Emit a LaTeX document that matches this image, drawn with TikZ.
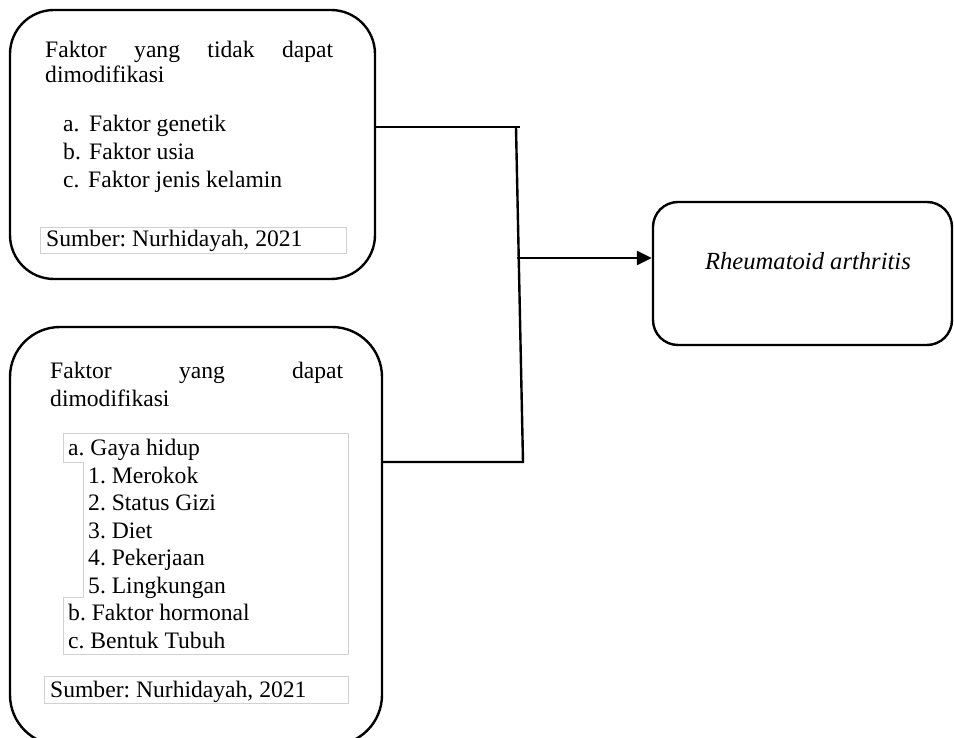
\documentclass[tikz,border=0pt]{standalone}
\usepackage{fontspec}
\setmainfont{Liberation Serif}
\usetikzlibrary{arrows.meta}
\frenchspacing
\begin{document}
\frenchspacing
\begin{tikzpicture}[x=1pt,y=-1pt,
  bigbox/.style={draw=black, line width=2.4pt, rounded corners=#1, inner sep=0pt},
  txt/.style={anchor=base west, inner sep=0pt, font=\fontsize{23.6}{28}\selectfont},
  thinframe/.style={draw=black!18, line width=0.9pt},
  conn/.style={draw=black, line width=2.4pt, line join=miter}]
\useasboundingbox (0,0) rectangle (954,738);
% boxes
\node[bigbox=44pt, minimum width=365pt, minimum height=269pt] (nm) at (192.5,144.5) {};
\node[bigbox=50pt, minimum width=372pt, minimum height=418pt] (m) at (196,536) {};
\node[bigbox=25pt, minimum width=299pt, minimum height=143pt] (ra) at (802.5,273.5) {};
% connectors
\coordinate (jt) at (520,127);
\coordinate (jtv) at (516,127);
\coordinate (jb) at (523,462);
\coordinate (jm) at (517,258);
\draw[conn] (nm.east |- jt) -- (jt);
\draw[conn] (jtv) -- (jb) -- (m.east |- jb);
\draw[conn, -{Triangle[length=15pt,width=14pt]}] (jm) -- (ra.west |- jm);
% top box text
\node[txt] (t1) at (45,58) {\makebox[288pt][s]{Faktor yang tidak dapat}};
\node[txt] (t2) at (45,83) {dimodifikasi};
\node[txt] (t3) at (63,132) {\makebox[26pt][l]{a.}Faktor genetik};
\node[txt] (t4) at (63,160) {\makebox[26pt][l]{b.}Faktor usia};
\node[txt] (t5) at (63,188) {\makebox[25pt][l]{c.}Faktor jenis kelamin};
\node[thinframe, minimum width=306pt, minimum height=26pt, inner sep=0pt] (s1) at (193,240) {};
\node[txt] (s1t) at (46,247) {Sumber: Nurhidayah, 2021};
% bottom box text
\node[txt] (b1) at (50,378) {\makebox[293pt][s]{Faktor yang dapat}};
\node[txt] (b2) at (50,406) {dimodifikasi};
\draw[thinframe] (63,433) -- (348,433) -- (348,654) -- (63,654) -- (63,597) -- (83,597) -- (83,462) -- (63,462) -- cycle;
\node[txt] (b3) at (68,455) {a. Gaya hidup};
\node[txt] (b4) at (88,483) {1. Merokok};
\node[txt] (b5) at (88,510) {2. Status Gizi};
\node[txt] (b6) at (88,538) {3. Diet};
\node[txt] (b7) at (88,565) {4. Pekerjaan};
\node[txt] (b8) at (88,593) {5. Lingkungan};
\node[txt] (b9) at (68,620) {b. Faktor hormonal};
\node[txt] (b10) at (68,648) {c. Bentuk Tubuh};
\node[thinframe, minimum width=304pt, minimum height=27pt, inner sep=0pt] (s2) at (196,689.5) {};
\node[txt] (s2t) at (50,697) {Sumber: Nurhidayah, 2021};
% right box text
\node[anchor=base, inner sep=0pt, font=\fontsize{24.6}{28}\selectfont\itshape] (rt) at (808,270) {Rheumatoid arthritis};
\end{tikzpicture}
\end{document}
